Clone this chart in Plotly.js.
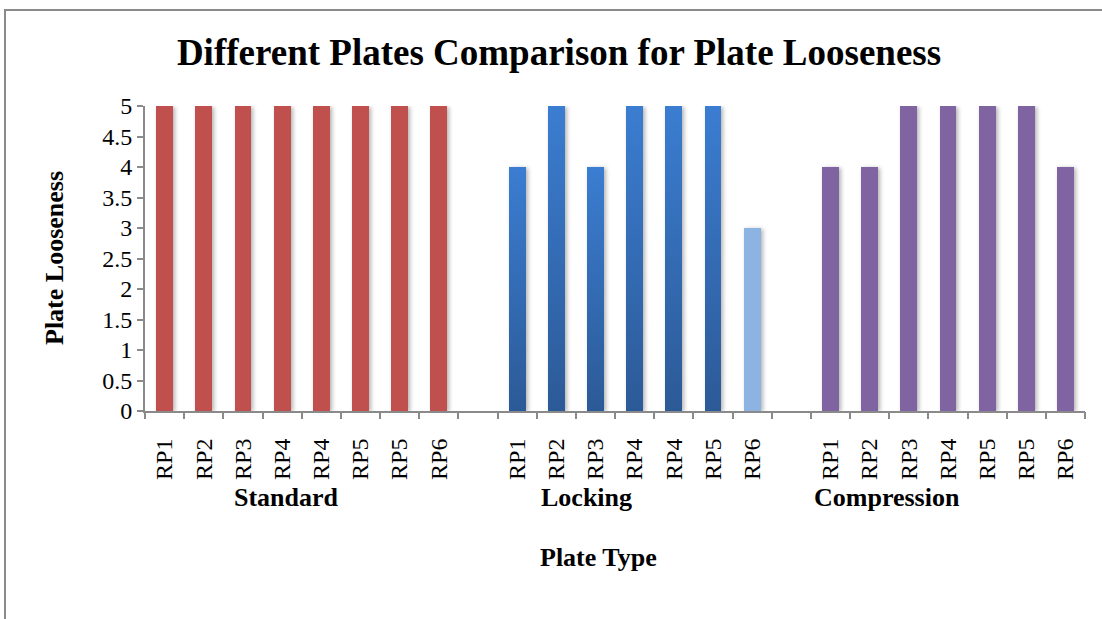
<!DOCTYPE html>
<html>
<head>
<meta charset="utf-8">
<script src="https://cdn.plot.ly/plotly-3.0.1.min.js"></script>
<style>
  html, body { margin: 0; padding: 0; background: #ffffff; }
  #wrap { position: relative; width: 1102px; height: 619px; overflow: hidden; }
  #chart { width: 1102px; height: 619px; }
  #frame { position: absolute; left: 4px; top: 9px; width: 1200px; height: 700px;
           border-left: 2px solid #8a8a8a; border-top: 2px solid #8a8a8a; pointer-events: none; }
  .barlayer .point path { filter: drop-shadow(2px 1px 2px rgba(0,0,0,0.30)); }
</style>
</head>
<body>
<div id="wrap">
  <div id="chart"></div>
  <div id="frame"></div>
</div>
<script>
// ---- data ----
const groupNames = ['Standard', 'Locking', 'Compression'];
const standardLabels = ['RP1', 'RP2', 'RP3', 'RP4', 'RP4', 'RP5', 'RP5', 'RP6'];
const standardValues = [5, 5, 5, 5, 5, 5, 5, 5];
const lockingLabels = ['RP1', 'RP2', 'RP3', 'RP4', 'RP4', 'RP5', 'RP6'];
const lockingValues = [4, 5, 4, 5, 5, 5, 3];
const compressionLabels = ['RP1', 'RP2', 'RP3', 'RP4', 'RP5', 'RP5', 'RP6'];
const compressionValues = [4, 4, 5, 5, 5, 5, 4];
const yTickValues = [0, 0.5, 1, 1.5, 2, 2.5, 3, 3.5, 4, 4.5, 5];

// ---- slot positions (one empty slot between groups) ----
const groups = [
  { labels: standardLabels, values: standardValues },
  { labels: lockingLabels, values: lockingValues },
  { labels: compressionLabels, values: compressionValues }
];
let slot = 0;
const allPos = [], allText = [];
groups.forEach((g, gi) => {
  g.pos = g.labels.map((_, i) => slot + i);
  g.pos.forEach((p, i) => { allPos.push(p); allText.push(g.labels[i]); });
  slot += g.labels.length + 1;
});
const nSlots = slot - 1;

const serif = 'Liberation Serif, Times New Roman, serif';
const red = '#C0504D', blue = '#3570BA', lightBlue = '#8DB3E2', purple = '#8064A2';
const lockingColors = lockingValues.map((v, i) => i === lockingValues.length - 1 ? lightBlue : blue);

const barWidth = 0.43;
const traces = [
  { type: 'bar', x: groups[0].pos, y: standardValues, width: barWidth, marker: { color: red }, hoverinfo: 'none', showlegend: false },
  { type: 'bar', x: groups[1].pos, y: lockingValues, width: barWidth, marker: { color: lockingColors }, hoverinfo: 'none', showlegend: false },
  { type: 'bar', x: groups[2].pos, y: compressionValues, width: barWidth, marker: { color: purple }, hoverinfo: 'none', showlegend: false, xaxis: 'x2' }
];

const axisGrey = '#8a8a8a';
// group label centres (in slot units)
const groupLabelX = [3.1, 10.76, 18.44];

const layout = {
  width: 1102, height: 619,
  margin: { l: 145, r: 17, t: 106, b: 208 },
  paper_bgcolor: '#ffffff', plot_bgcolor: '#ffffff',
  font: { family: serif, color: '#000000' },
  title: {
    text: '<b>Different Plates Comparison for Plate Looseness</b>',
    font: { family: serif, size: 37, color: '#000000' },
    x: 559 / 1102, xanchor: 'center', xref: 'container',
    y: 1 - 52 / 619, yanchor: 'middle', yref: 'container'
  },
  bargap: 0,
  xaxis: {
    range: [-0.5, nSlots - 0.5],
    tickmode: 'array', tickvals: allPos, ticktext: allText,
    tickangle: -90, ticks: '', ticklabelstandoff: 16,
    tickfont: { family: serif, size: 24, color: '#000000' },
    showline: true, linecolor: axisGrey, linewidth: 2,
    showgrid: false, zeroline: false, fixedrange: true
  },
  xaxis2: {
    overlaying: 'x', anchor: 'y', side: 'bottom',
    range: [-0.5, nSlots - 0.5],
    tickmode: 'linear', tick0: -0.5, dtick: 1,
    ticks: 'outside', ticklen: 7, tickwidth: 2, tickcolor: axisGrey,
    showticklabels: false, showline: false, showgrid: false, zeroline: false
  },
  yaxis: {
    range: [0, 5], tickmode: 'array', tickvals: yTickValues,
    ticks: 'outside', ticklen: 6, tickwidth: 2, tickcolor: axisGrey,
    tickfont: { family: serif, size: 24, color: '#000000' },
    showline: true, linecolor: axisGrey, linewidth: 2,
    showgrid: false, zeroline: false, fixedrange: true
  },
  annotations: [
    ...groupNames.map((name, i) => ({
      text: '<b>' + name + '</b>', xref: 'x', yref: 'paper',
      x: groupLabelX[i], y: (411 - 497) / 305, xanchor: 'center', yanchor: 'middle',
      showarrow: false, font: { family: serif, size: 26, color: '#000000' }
    })),
    {
      text: '<b>Plate Type</b>', xref: 'paper', yref: 'paper',
      x: (598 - 145) / 940, y: (411 - 557) / 305, xanchor: 'center', yanchor: 'middle',
      showarrow: false, font: { family: serif, size: 26, color: '#000000' }
    },
    {
      text: '<b>Plate Looseness</b>', xref: 'paper', yref: 'paper', textangle: -90,
      x: (54 - 145) / 940, y: (411 - 258) / 305, xanchor: 'center', yanchor: 'middle',
      showarrow: false, font: { family: serif, size: 26, color: '#000000' }
    }
  ]
};

Plotly.newPlot('chart', traces, layout, { displayModeBar: false, staticPlot: true }).then(gd => {
  const svg = gd.querySelector('svg.main-svg');
  const ns = 'http://www.w3.org/2000/svg';
  let defs = svg.querySelector('defs');
  if (!defs) { defs = document.createElementNS(ns, 'defs'); svg.insertBefore(defs, svg.firstChild); }
  const grad = document.createElementNS(ns, 'linearGradient');
  grad.setAttribute('id', 'lockGrad');
  grad.setAttribute('x1', '0'); grad.setAttribute('y1', '0');
  grad.setAttribute('x2', '0'); grad.setAttribute('y2', '1');
  [['0%', '#3B7DD1'], ['100%', '#2C5A97']].forEach(([o, c]) => {
    const s = document.createElementNS(ns, 'stop');
    s.setAttribute('offset', o); s.setAttribute('stop-color', c);
    grad.appendChild(s);
  });
  defs.appendChild(grad);
  const lockTrace = gd.querySelectorAll('.barlayer .trace')[1];
  if (lockTrace) {
    const paths = lockTrace.querySelectorAll('.point path');
    paths.forEach((p, i) => {
      if (i < lockingValues.length - 1) p.style.fill = 'url(#lockGrad)';
    });
  }
});
</script>
</body>
</html>
